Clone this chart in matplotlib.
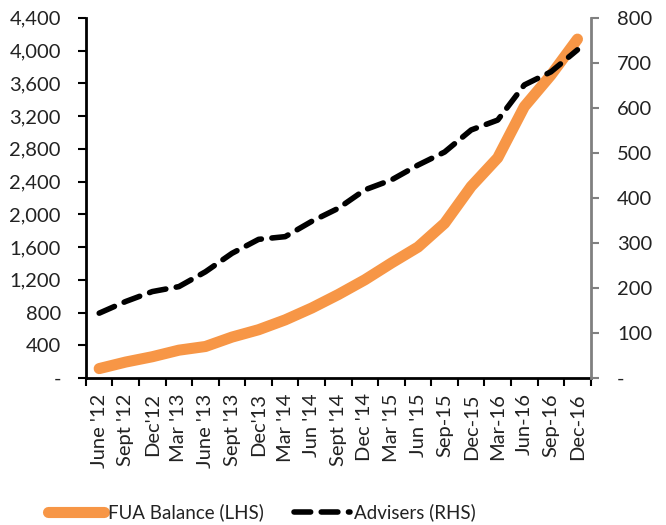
import numpy as np
import matplotlib
matplotlib.use('Agg')
import matplotlib.pyplot as plt
from matplotlib.ticker import FuncFormatter

# Quarterly data
quarters = ["June '12", "Sept '12", "Dec'12", "Mar '13", "June '13", "Sept '13",
            "Dec'13", "Mar '14", "Jun '14", "Sept '14", "Dec '14", "Mar '15",
            "Jun '15", "Sep-15", "Dec-15", "Mar-16", "Jun-16", "Sep-16", "Dec-16"]
fua_balance = [115, 195, 260, 340, 385, 500, 590, 710, 855, 1020, 1200, 1405,
               1600, 1890, 2340, 2690, 3315, 3700, 4140]
advisers = [144, 170, 192, 203, 236, 277, 308, 314, 348, 377, 418, 440,
            473, 502, 551, 573, 651, 680, 729]

plt.rcParams['font.family'] = ['Lato', 'DejaVu Sans']

fig = plt.figure(figsize=(6.66, 5.25), dpi=100)
ax = fig.add_axes([0.129, 0.28, 0.758, 0.686])
ax2 = ax.twinx()

x = np.arange(len(quarters))
orange = '#F79646'
l1, = ax.plot(x, fua_balance, color=orange, lw=8, solid_capstyle='round',
              solid_joinstyle='round', label='FUA Balance (LHS)', zorder=2)
l2, = ax2.plot(x, advisers, color='black', lw=4, dashes=(3.0, 1.9),
               dash_capstyle='round', label='Advisers (RHS)', zorder=3)

ax.set_xlim(-0.5, len(quarters) - 0.5)
ax.set_ylim(0, 4400)
ax2.set_ylim(0, 800)
ax.set_yticks(np.arange(0, 4401, 400))
ax2.set_yticks(np.arange(0, 801, 100))

fmt = lambda v, p: '-' if v == 0 else f'{int(v):,}'
ax.yaxis.set_major_formatter(FuncFormatter(fmt))
ax2.yaxis.set_major_formatter(FuncFormatter(fmt))

# category ticks between labels, labels at centres
ax.set_xticks(np.arange(-0.5, len(quarters), 1.0))
ax.set_xticklabels([])
ax.set_xticks(x, minor=True)
ax.set_xticklabels(quarters, minor=True, rotation=90, fontsize=14.5, color='#222222')
ax.tick_params(axis='x', which='minor', length=0, pad=11)
ax.tick_params(axis='x', which='major', length=6, width=1.5, color='black', direction='out')

ax.tick_params(axis='y', length=6, width=1.5, color='black', labelsize=14.5,
               labelcolor='#222222', pad=12)
ax2.tick_params(axis='y', length=6, width=1.5, color='#808080', labelsize=14.5,
                labelcolor='#222222', pad=13)

for a in (ax, ax2):
    a.spines['top'].set_visible(False)
ax.spines['right'].set_visible(False)
ax.spines['left'].set_linewidth(2)
ax.spines['bottom'].set_linewidth(2)
ax2.spines['left'].set_visible(False)
ax2.spines['bottom'].set_visible(False)
ax2.spines['right'].set_color('#808080')
ax2.spines['right'].set_linewidth(2)

leg = fig.legend(handles=[l1, l2], loc='center', bbox_to_anchor=(0.393, 0.024),
                 ncol=2, frameon=False, fontsize=13.5, handlelength=3.0,
                 columnspacing=1.6, handletextpad=0.2)
for t in leg.get_texts():
    t.set_color('#222222')

fig.savefig('out.png', dpi=100)
